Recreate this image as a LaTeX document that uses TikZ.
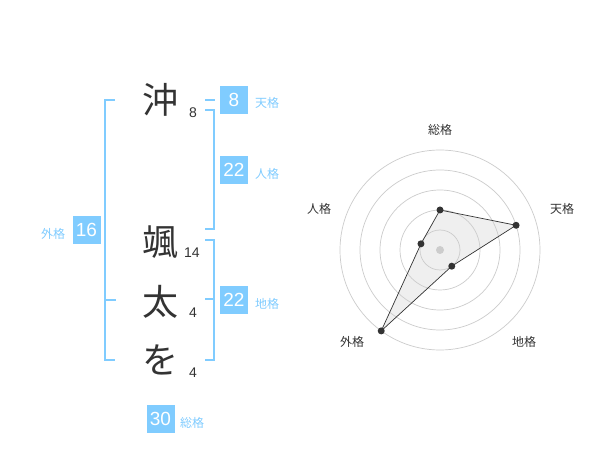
\documentclass[tikz,border=0pt]{standalone}
\usepackage{fontspec}
\setmainfont{Liberation Sans}
\newfontfamily\jp{Noto Sans CJK JP}
\definecolor{kblue}{HTML}{80CCFF}
\definecolor{ink}{HTML}{333333}
\definecolor{ring}{HTML}{CCCCCC}
\definecolor{polyfill}{HTML}{EFEFEF}
\tikzset{
  kanji/.style={font=\jp\fontsize{36}{36}\selectfont, text=ink, inner sep=0pt},
  strokes/.style={font=\fontsize{14}{14}\selectfont, text=ink, inner sep=0pt},
  kbox/.style={fill=kblue, text=white, minimum width=28pt, minimum height=28pt, inner sep=0pt, font=\fontsize{19}{19}\selectfont},
  klabel/.style={font=\jp\fontsize{12}{12}\selectfont, text=kblue, inner sep=0pt},
  brk/.style={draw=kblue, line width=1.8pt},
  rlabel/.style={font=\jp\fontsize{12}{12}\selectfont, text=ink, inner sep=0pt},
  ringc/.style={draw=ring, line width=0.7pt},
  dot/.style={circle, fill=ink, minimum size=7pt, inner sep=0pt},
}
\begin{document}
\begin{tikzpicture}[x=1pt,y=-1pt]
\useasboundingbox[fill=white] (0,0) rectangle (600,470);

% characters
\node[kanji] (c1) at (160,100) {沖};
\node[kanji] (c2) at (160,242) {颯};
\node[kanji] (c3) at (160,302) {太};
\node[kanji] (c4) at (160,360) {を};
\node[strokes] (s1) at (193,113) {8};
\node[strokes] (s2) at (192,253) {14};
\node[strokes] (s3) at (193,313) {4};
\node[strokes] (s4) at (193,373) {4};

% left bracket (外格)
\coordinate (la) at (115,100);
\coordinate (lb) at (115,360);
\draw[brk] (la) -- (105,100) -- (105,360) -- (lb);
\draw[brk] (105,300) -- (116,300);
\node[kbox] (gai) at (86.5,230) {16};
\node[klabel] (gail) at (53,234) {外格};

% 天格
\draw[brk] (205,100) -- (215,100);
\node[kbox] (ten) at (234,100) {8};
\node[klabel] (tenl) at (267,103) {天格};

% 人格
\draw[brk] (205,110) -- (214,110) -- (214,229) -- (205,229);
\node[kbox] (jin) at (234,170) {22};
\node[klabel] (jinl) at (267,174) {人格};

% 地格
\draw[brk] (205,240) -- (214,240) -- (214,360) -- (205,360);
\draw[brk] (205,299) -- (214,299);
\node[kbox] (chi) at (234,300) {22};
\node[klabel] (chil) at (267,304) {地格};

% 総格
\node[kbox] (sou) at (160.5,419) {30};
\node[klabel] (soul) at (192,423) {総格};

% radar
\coordinate (O) at (440,250);
\coordinate (pS) at (440,210);
\coordinate (pT) at (516.08,225.28);
\coordinate (pC) at (451.76,266.18);
\coordinate (pG) at (381.22,330.9);
\coordinate (pJ) at (420.98,243.82);
\fill[polyfill] (pS) -- (pT) -- (pC) -- (pG) -- (pJ) -- cycle;
\foreach \r in {20,40,60,80,100} { \draw[ringc] (O) circle[radius=\r]; }
\fill[ring] (O) circle[radius=4];
\draw[ink, line width=0.7pt] (pS) -- (pT) -- (pC) -- (pG) -- (pJ) -- cycle;
\node[dot] (dS) at (pS) {};
\node[dot] (dT) at (pT) {};
\node[dot] (dC) at (pC) {};
\node[dot] (dG) at (pG) {};
\node[dot] (dJ) at (pJ) {};
\node[rlabel] (rS) at (440,130) {総格};
\node[rlabel] (rT) at (562,209) {天格};
\node[rlabel] (rJ) at (319,209) {人格};
\node[rlabel] (rG) at (352,342) {外格};
\node[rlabel] (rC) at (524,342) {地格};
\end{tikzpicture}
\end{document}
